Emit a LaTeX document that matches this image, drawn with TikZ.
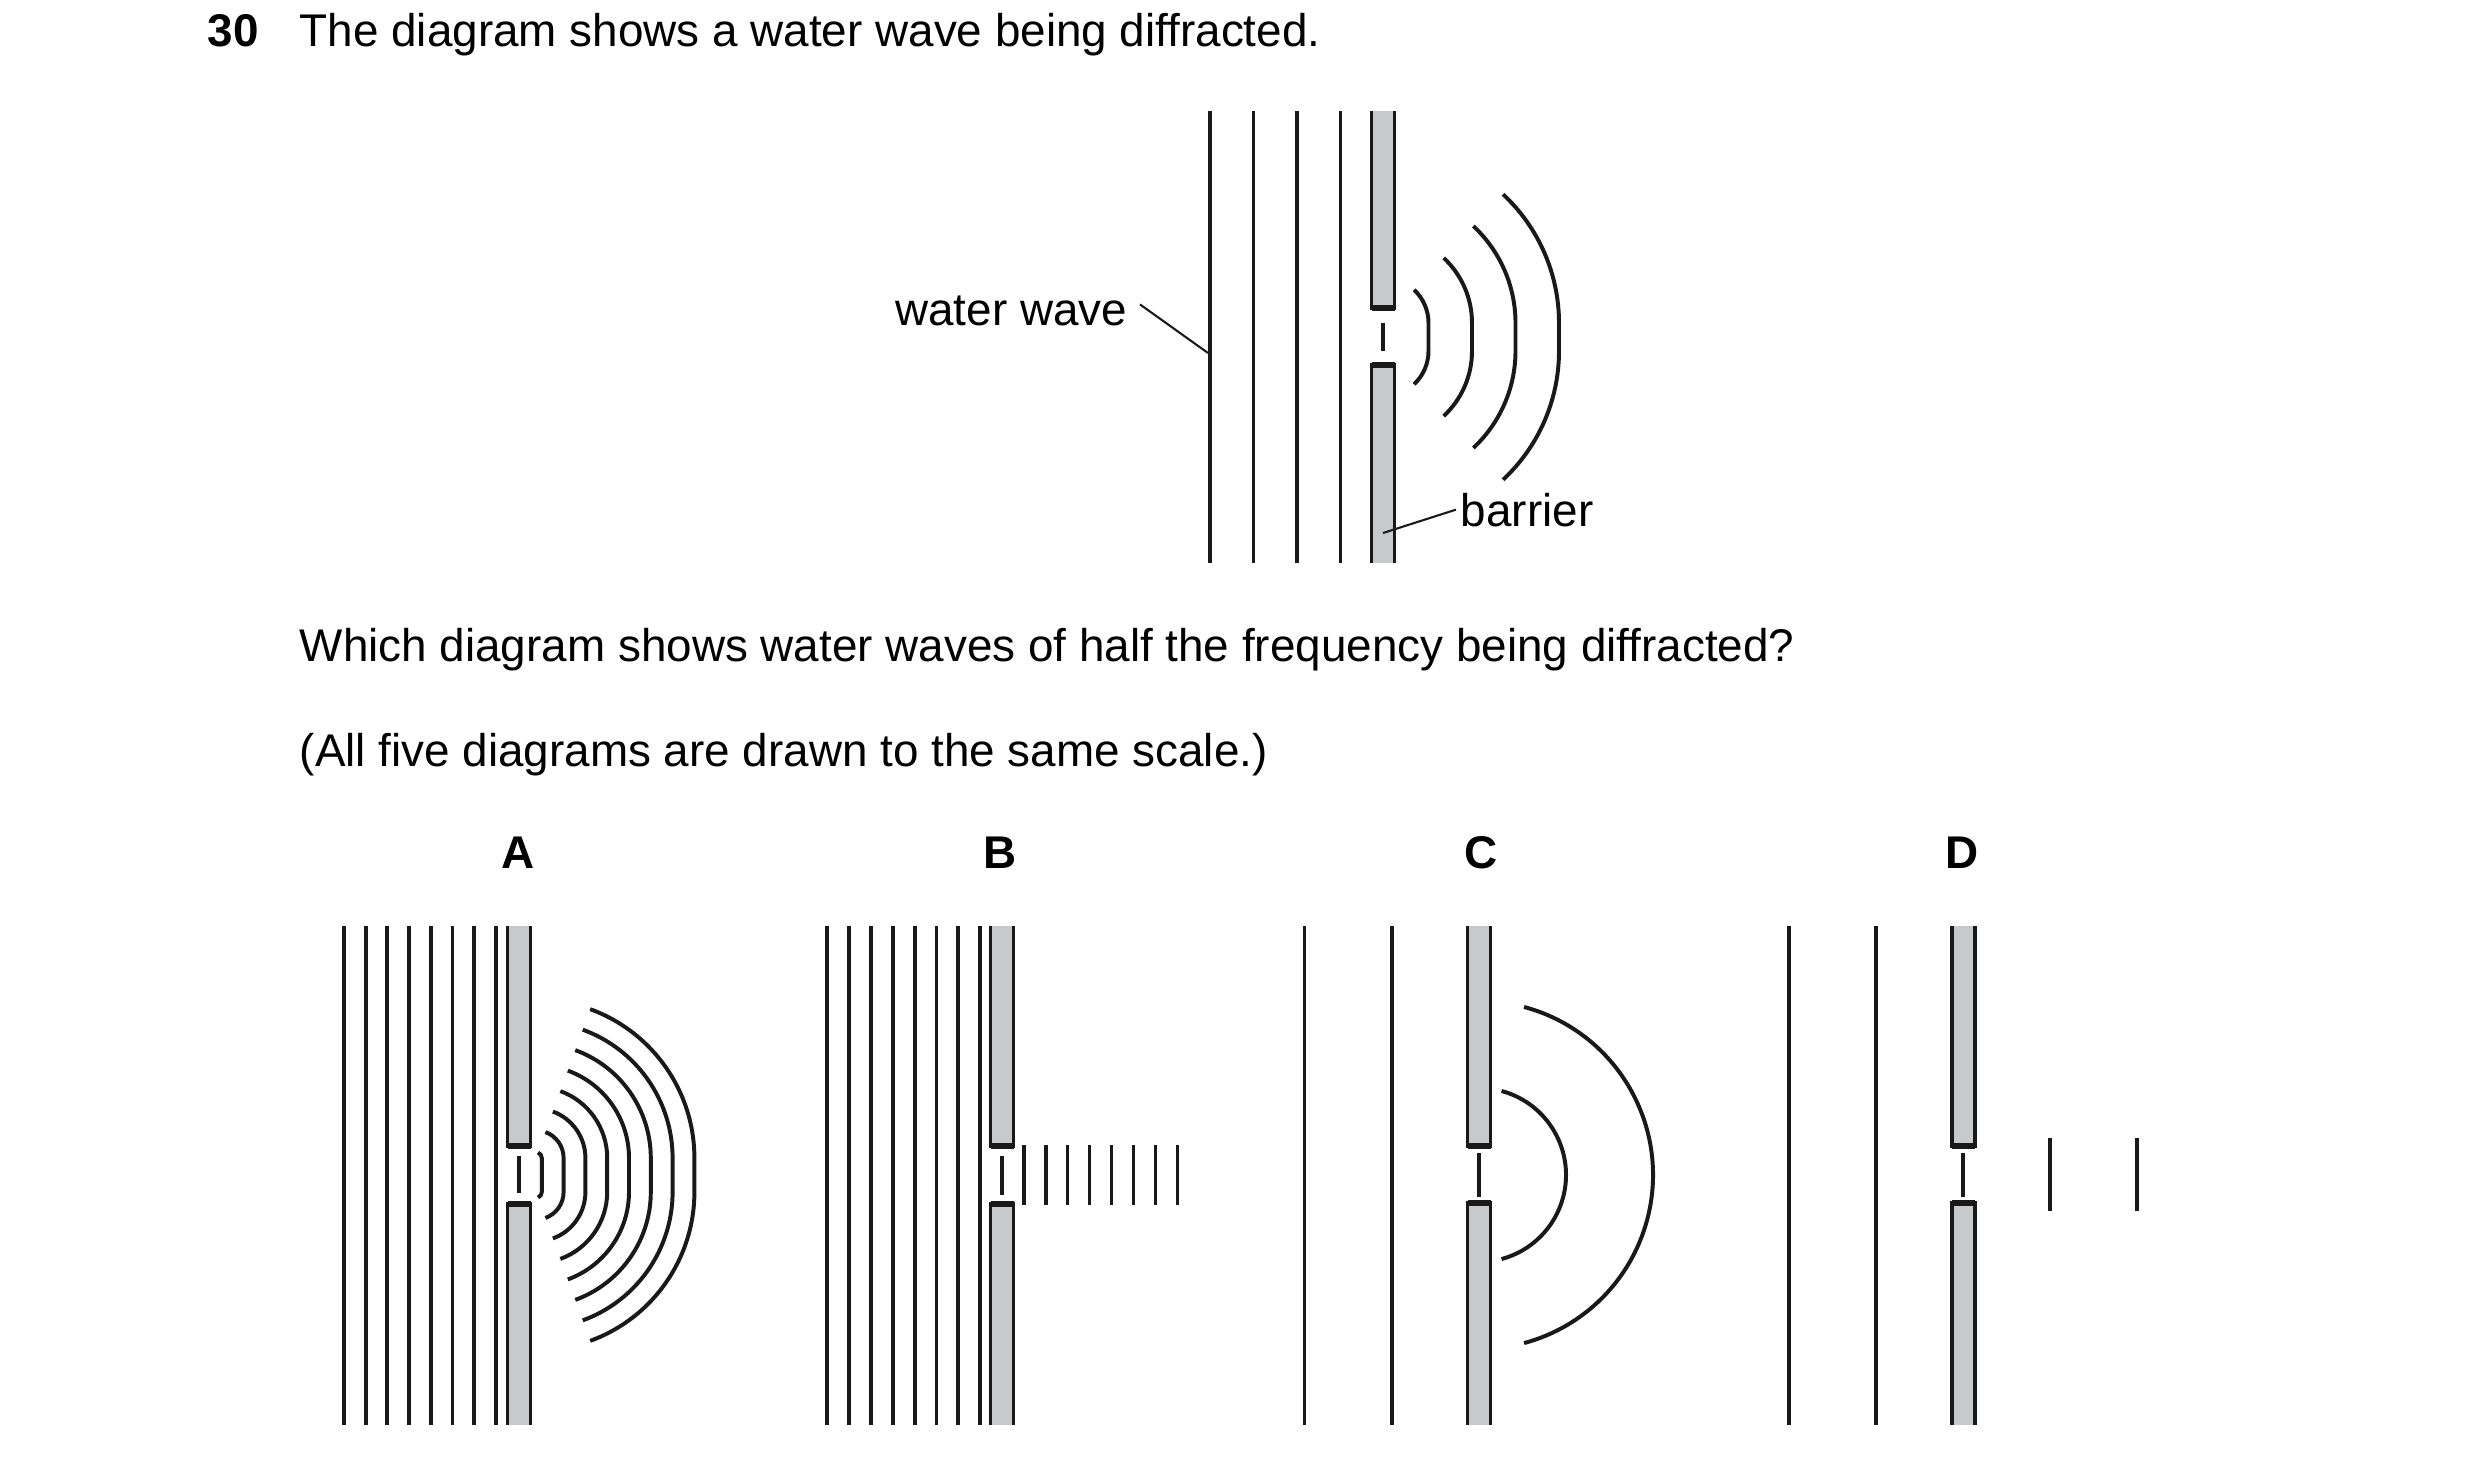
\documentclass[tikz,border=0pt]{standalone}
\usepackage{fontspec}
\setmainfont{Liberation Sans}
\usetikzlibrary{positioning}
\definecolor{barriergrey}{RGB}{200,201,203}

% barrier with a gap: centre x, top, gap top, gap bottom, bottom, dash top, dash bottom
\newcommand{\slitbarrier}[7]{%
\draw[barrier] (#1-11.5,#2) -- (#1-11.5,#3) -- (#1+11.5,#3) -- (#1+11.5,#2);
\draw[barrier] (#1-11.5,#5) -- (#1-11.5,#4) -- (#1+11.5,#4) -- (#1+11.5,#5);
\draw[front] (#1-11.5,#3) -- (#1+11.5,#3);
\draw[front] (#1-11.5,#4) -- (#1+11.5,#4);
\draw[wave,line width=0.8pt] (#1,#6) -- (#1,#7);
}

\begin{document}
\begin{tikzpicture}[x=0.24pt,y=-0.24pt,
  wave/.style={line width=0.95pt,black!90},
  barrier/.style={line width=0.95pt,draw=black!90,fill=barriergrey},
  front/.style={line width=1.6pt,black!90},
  leader/.style={line width=0.5pt,black!90},
  txt/.style={font=\fontsize{11}{14}\selectfont,inner sep=0pt},
  letter/.style={font=\fontsize{11}{14}\selectfont\bfseries,inner sep=0pt,anchor=base}]
\useasboundingbox (0,0) rectangle (2480,1461);

% question text
\node[txt,anchor=base west,font=\fontsize{11}{14}\selectfont\bfseries] (num) at (207,46) {30};
\node[txt,anchor=base west] (stem) at (299,46) {The diagram shows a water wave being diffracted.};
\node[txt,anchor=base west] (ask) at (299,661) {Which diagram shows water waves of half the frequency being diffracted?};
\node[txt,anchor=base west] (note) at (299,766) {(All five diagrams are drawn to the same scale.)};

% top diagram
\foreach \x in {1210,1253.5,1297,1340.5}
  \draw[wave] (\x,111) -- (\x,563);
\slitbarrier{1383}{111}{308}{365}{563}{323}{351}
\foreach \k in {1,...,4}
  \draw[wave] (1383,323) ++(-47:{43.5*\k+2}) arc[start angle=-47,end angle=0,radius={43.5*\k+2}]
    -- ++(0,28) arc[start angle=0,end angle=47,radius={43.5*\k+2}];
\node[txt,anchor=base east] (wavelabel) at (1128,325) {water wave};
\coordinate (wavetip) at (1208,353);
\draw[leader] (wavelabel.east) ++(12,-6) coordinate (wavefoot) -- (wavetip);
\node[txt,anchor=base west] (barrierlabel) at (1460,526) {barrier};
\coordinate (barriertip) at (1383,533);
\draw[leader] (barrierlabel.west) ++(-4,0) coordinate (barrierfoot) -- (barriertip);

% A
\node[letter] (A) at (518,868) {A};
\foreach \i in {0,...,7}
  \draw[wave] (344+21.7*\i,926) -- (344+21.7*\i,1425);
\slitbarrier{519}{926}{1146}{1204}{1425}{1156}{1193}
\foreach \k in {1,...,8}
  \draw[wave] (536,1158) ++(-70:{21.8*\k-16}) arc[start angle=-70,end angle=0,radius={21.8*\k-16}]
    -- ++(0,34) arc[start angle=0,end angle=70,radius={21.8*\k-16}];

% B
\node[letter] (B) at (1000,868) {B};
\foreach \i in {0,...,7}
  \draw[wave] (827+21.9*\i,926) -- (827+21.9*\i,1425);
\slitbarrier{1002}{926}{1146}{1204}{1425}{1156}{1195}
\foreach \i in {0,...,7}
  \draw[wave,line width=0.8pt] (1024+21.9*\i,1145) -- (1024+21.9*\i,1205);

% C
\node[letter] (C) at (1481,868) {C};
\foreach \x in {1304.5,1392}
  \draw[wave] (\x,926) -- (\x,1425);
\slitbarrier{1479}{926}{1146}{1203}{1425}{1153}{1197}
\foreach \k in {1,2}
  \draw[wave] (1479,1175) ++(-75:{87*\k}) arc[start angle=-75,end angle=75,radius={87*\k}];

% D
\node[letter] (D) at (1962,868) {D};
\foreach \x in {1788.5,1875.6}
  \draw[wave] (\x,926) -- (\x,1425);
\slitbarrier{1963}{926}{1146}{1203}{1425}{1153}{1197}
\foreach \x in {2050,2137}
  \draw[wave,line width=0.8pt] (\x,1138) -- (\x,1211);
\end{tikzpicture}
\end{document}
